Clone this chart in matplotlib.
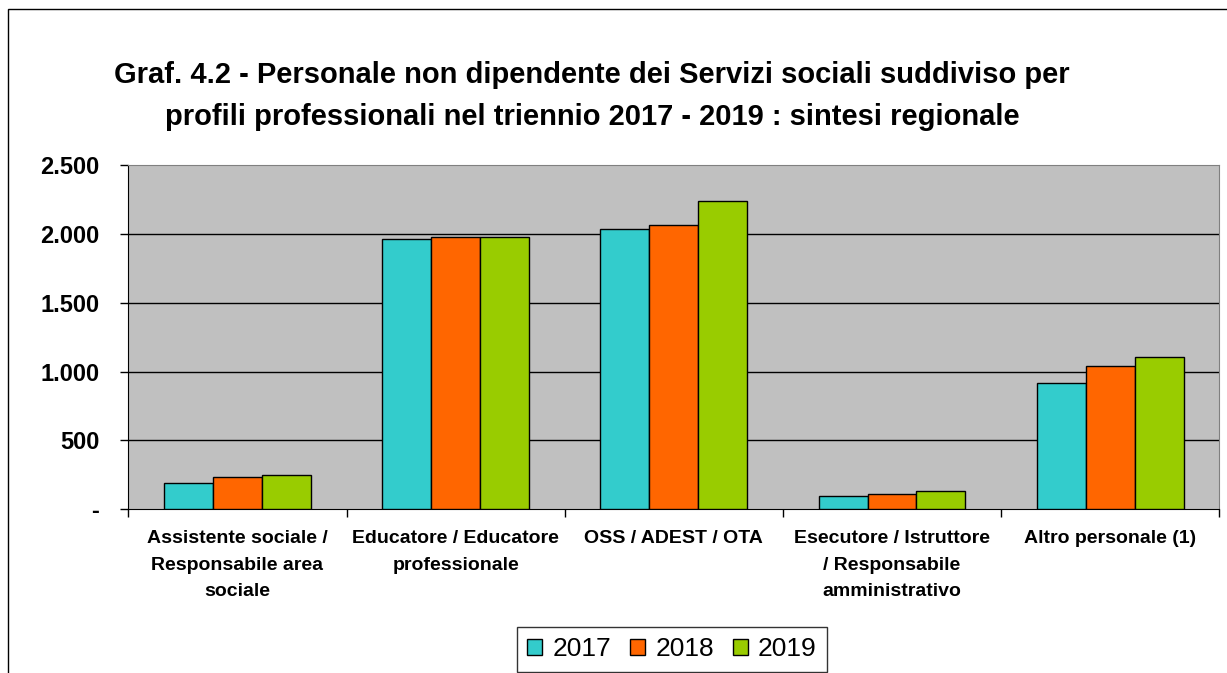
import matplotlib
matplotlib.use('Agg')
import numpy as np
import matplotlib.pyplot as plt
from matplotlib.patches import Rectangle

# Categories and values
categories = [
    'Assistente sociale /\nResponsabile area\nsociale',
    'Educatore / Educatore\nprofessionale',
    'OSS / ADEST / OTA',
    'Esecutore / Istruttore\n/ Responsabile\namministrativo',
    'Altro personale (1)',
]
years = ['2017', '2018', '2019']
v2017 = [189, 1962, 2037, 97, 918]
v2018 = [237, 1974, 2064, 111, 1044]
v2019 = [251, 1974, 2241, 135, 1107]
y_ticks = [0, 500, 1000, 1500, 2000, 2500]
y_labels = ['-', '500', '1.000', '1.500', '2.000', '2.500']

colors = ['#33CCCC', '#FF6600', '#99CC00']
title = ('Graf. 4.2 - Personale non dipendente dei Servizi sociali suddiviso per\n'
         'profili professionali nel triennio 2017 - 2019 : sintesi regionale')

plt.rcParams['font.family'] = ['Liberation Sans', 'DejaVu Sans']

W, H = 1227, 673
fig = plt.figure(figsize=(W / 100, H / 100), dpi=100)
ax = fig.add_axes([128.3 / W, 1 - 509.3 / H, (1219.3 - 128.3) / W, (509.3 - 165) / H])
ax.set_facecolor('#C0C0C0')

x = np.arange(len(categories))
bw = 0.224
for i, (vals, c, lab) in enumerate(zip([v2017, v2018, v2019], colors, years)):
    ax.bar(x + (i - 1) * bw, vals, bw, color=c, edgecolor='black', linewidth=1,
           label=lab, zorder=3)

ax.set_ylim(0, 2500)
ax.set_xlim(-0.5, len(categories) - 0.5)
for yv in y_ticks[1:-1]:
    ax.axhline(yv, color='black', linewidth=1, zorder=1)

ax.set_yticks(y_ticks)
ax.set_yticklabels(y_labels, fontsize=17, fontweight='bold')
ax.tick_params(axis='y', direction='out', length=6, width=1, pad=15)

ax.set_xticks(np.arange(-0.5, len(categories)), minor=False)
ax.set_xticklabels([])
ax.tick_params(axis='x', which='major', direction='out', length=6, width=1)
ax.set_xticks(x, minor=True)
ax.set_xticklabels(categories, minor=True, fontsize=14, fontweight='bold',
                   linespacing=1.73, va='top')
ax.tick_params(axis='x', which='minor', length=0, pad=15)

ax.spines['top'].set_color('#808080')
ax.spines['right'].set_color('#808080')
ax.spines['left'].set_color('black')
ax.spines['bottom'].set_color('black')

fig.text(592 / W, 1 - 96 / H, title, ha='center', va='center', fontsize=21,
         fontweight='bold', linespacing=1.62)

leg = fig.legend(loc='center', bbox_to_anchor=(672 / W, 1 - 649.5 / H), ncol=3,
                 fontsize=19, frameon=True, fancybox=False, edgecolor='black',
                 handlelength=0.57, handleheight=0.57, handletextpad=0.38,
                 columnspacing=0.72, borderpad=0.4)
leg.get_frame().set_linewidth(1)

# outer chart border
fig.patches.append(Rectangle((8 / W, -0.05), 1.1, 1 - 9 / H + 0.05,
                             transform=fig.transFigure, fill=False,
                             edgecolor='black', linewidth=1))

fig.savefig('out.png', dpi=100)
